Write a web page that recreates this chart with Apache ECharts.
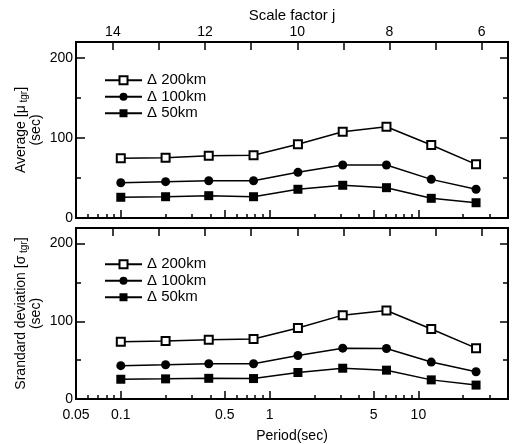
<!DOCTYPE html>
<html><head><meta charset="utf-8">
<script src="https://cdn.jsdelivr.net/npm/echarts@6/dist/echarts.min.js"></script>
<style>html,body{margin:0;padding:0;background:#fff}#c{width:513px;height:444px}</style>
</head><body><div id="c"></div>
<script>
// ---- data ----
const periods = [0.1, 0.2, 0.39, 0.78, 1.55, 3.1, 6.1, 12.2, 24.4];
const avg200 = [74.6, 75.4, 77.9, 78.4, 92.1, 107.9, 114.1, 91.3, 67.1];
const avg100 = [44.1, 45.4, 46.6, 46.6, 57.1, 66.3, 66.3, 48.3, 35.9];
const avg50  = [25.9, 26.6, 27.9, 26.6, 35.9, 40.9, 37.9, 24.6, 19.1];
const sd200  = [73.8, 74.6, 76.3, 77.1, 91.3, 107.9, 113.8, 90.0, 65.4];
const sd100  = [42.9, 44.1, 45.4, 45.4, 55.9, 65.4, 65.0, 47.5, 35.0];
const sd50   = [25.4, 25.9, 26.6, 26.3, 34.1, 39.6, 37.1, 24.6, 17.9];
const seriesNames = ['Δ 200km', 'Δ 100km', 'Δ 50km'];
const periodLabels = [0.05, 0.1, 0.5, 1, 5, 10];
const periodMajorTicks = [0.05, 0.1, 0.5, 1, 5, 10];
const periodMinorTicks = [0.06, 0.07, 0.08, 0.09, 0.2, 0.3, 0.4, 0.6, 0.7, 0.8, 0.9, 2, 3, 4, 6, 7, 8, 9, 20, 30];
const scaleTicks = [6, 7, 8, 9, 10, 11, 12, 13, 14];
const scaleLabels = [6, 8, 10, 12, 14];
const yLabels = [0, 100, 200];
const yMajorTicks = [0, 100, 200];
const yMinorTicks = [50, 150];

// ---- layout ----
const FONT = 'Liberation Sans, Arial, sans-serif';
const PMIN = 0.05, PMAX = 40;
const JMIN = 5.43, JMAX = 14.8;
const YMAX = 220;
const L = Math.log10;
const grids = [
  {left: 76, top: 42, width: 432, height: 176, show: true, borderColor: '#000', borderWidth: 2},
  {left: 76, top: 228, width: 432, height: 175, show: true, borderColor: '#000', borderWidth: 2}
];
const tickStyle = {color: '#000', width: 1.5};
const txt = {color: '#000', fontFamily: FONT, fontSize: 14};
const fmtP = v => String(Math.round(Math.pow(10, v) * 1000) / 1000);
const noLine = {show: false, onZero: false};

const xAxes = [], yAxes = [];
[0, 1].forEach(g => {
  xAxes.push({
    gridIndex: g, type: 'value', position: 'bottom', min: L(PMIN), max: L(PMAX),
    axisLine: noLine, splitLine: {show: false},
    axisTick: {inside: true, length: 8, lineStyle: tickStyle, customValues: periodMajorTicks.map(L)},
    axisLabel: {show: g === 1, customValues: periodLabels.map(L), formatter: fmtP, margin: 9, ...txt},
    name: g === 1 ? 'Period(sec)' : '', nameLocation: 'middle', nameGap: 30, nameTextStyle: txt,
    nameMoveOverlap: false
  });
  xAxes.push({
    gridIndex: g, type: 'value', position: 'bottom', min: L(PMIN), max: L(PMAX),
    axisLine: noLine, splitLine: {show: false},
    axisTick: {inside: true, length: 4, lineStyle: tickStyle, customValues: periodMinorTicks.map(L)},
    axisLabel: {show: false}
  });
  xAxes.push({
    gridIndex: g, type: 'value', position: 'top', inverse: true, min: JMIN, max: JMAX,
    axisLine: noLine, splitLine: {show: false},
    axisTick: {inside: true, length: 8, lineStyle: tickStyle, customValues: scaleTicks},
    axisLabel: {show: g === 0, customValues: scaleLabels, margin: 3, ...txt},
    name: g === 0 ? 'Scale factor j' : '', nameLocation: 'middle', nameGap: 19,
    nameTextStyle: {...txt, fontSize: 15}, nameMoveOverlap: false
  });
  const nm = g === 0
    ? '{n|Average [}{n|μ}{s| tgr}{n|]}\n{n|(sec)}'
    : '{n|Srandard deviation [}{n|σ}{s| tgr}{n|]}\n{n|(sec)}';
  yAxes.push({
    gridIndex: g, type: 'value', position: 'left', min: 0, max: YMAX,
    axisLine: noLine, splitLine: {show: false},
    axisTick: {inside: true, length: 9, lineStyle: tickStyle, customValues: yMajorTicks},
    axisLabel: {customValues: yLabels, margin: 3, ...txt},
    name: nm, nameLocation: 'middle', nameRotate: 90, nameGap: 32, nameMoveOverlap: false,
    nameTextStyle: {...txt, lineHeight: 15, rich: {
      n: {fontSize: 14, fontFamily: FONT, color: '#000', lineHeight: 15},
      s: {fontSize: 10, fontFamily: FONT, color: '#000', verticalAlign: 'bottom', lineHeight: 12}
    }}
  });
  yAxes.push({
    gridIndex: g, type: 'value', position: 'left', min: 0, max: YMAX,
    axisLine: noLine, splitLine: {show: false},
    axisTick: {inside: true, length: 5, lineStyle: tickStyle, customValues: yMinorTicks},
    axisLabel: {show: false}
  });
  yAxes.push({
    gridIndex: g, type: 'value', position: 'right', min: 0, max: YMAX,
    axisLine: noLine, splitLine: {show: false},
    axisTick: {inside: true, length: 8, lineStyle: tickStyle, customValues: yMajorTicks},
    axisLabel: {show: false}
  });
  yAxes.push({
    gridIndex: g, type: 'value', position: 'right', min: 0, max: YMAX,
    axisLine: noLine, splitLine: {show: false},
    axisTick: {inside: true, length: 5, lineStyle: tickStyle, customValues: yMinorTicks},
    axisLabel: {show: false}
  });
});

const styles = [
  {symbol: 'rect', size: 8, itemStyle: {color: '#fff', borderColor: '#000', borderWidth: 2}},
  {symbol: 'circle', size: 9, itemStyle: {color: '#000', borderColor: '#000', borderWidth: 0}},
  {symbol: 'rect', size: 9, itemStyle: {color: '#000', borderColor: '#000', borderWidth: 0}}
];
const panelData = [[avg200, avg100, avg50], [sd200, sd100, sd50]];
const series = [];
panelData.forEach((set, g) => {
  set.forEach((vals, k) => {
    series.push({
      name: seriesNames[k], type: 'line',
      xAxisIndex: g * 3, yAxisIndex: g * 4,
      data: periods.map((p, i) => [L(p), vals[i]]),
      symbol: styles[k].symbol, symbolSize: styles[k].size,
      itemStyle: styles[k].itemStyle,
      lineStyle: {color: '#000', width: 1.5},
      animation: false, silent: true
    });
  });
});

const legendBase = {
  orient: 'vertical', left: 104, padding: 0, itemWidth: 37, itemHeight: 10, itemGap: 0,
  textStyle: {color: '#000', fontFamily: FONT, fontSize: 15, lineHeight: 16.5},
  data: seriesNames, selectedMode: false
};

const chart = echarts.init(document.getElementById('c'), null, {renderer: 'canvas'});
chart.setOption({
  animation: false,
  backgroundColor: '#fff',
  grid: grids,
  xAxis: xAxes,
  yAxis: yAxes,
  legend: [{...legendBase, top: 72}, {...legendBase, top: 256}],
  series: series
});
</script>
</body></html>
